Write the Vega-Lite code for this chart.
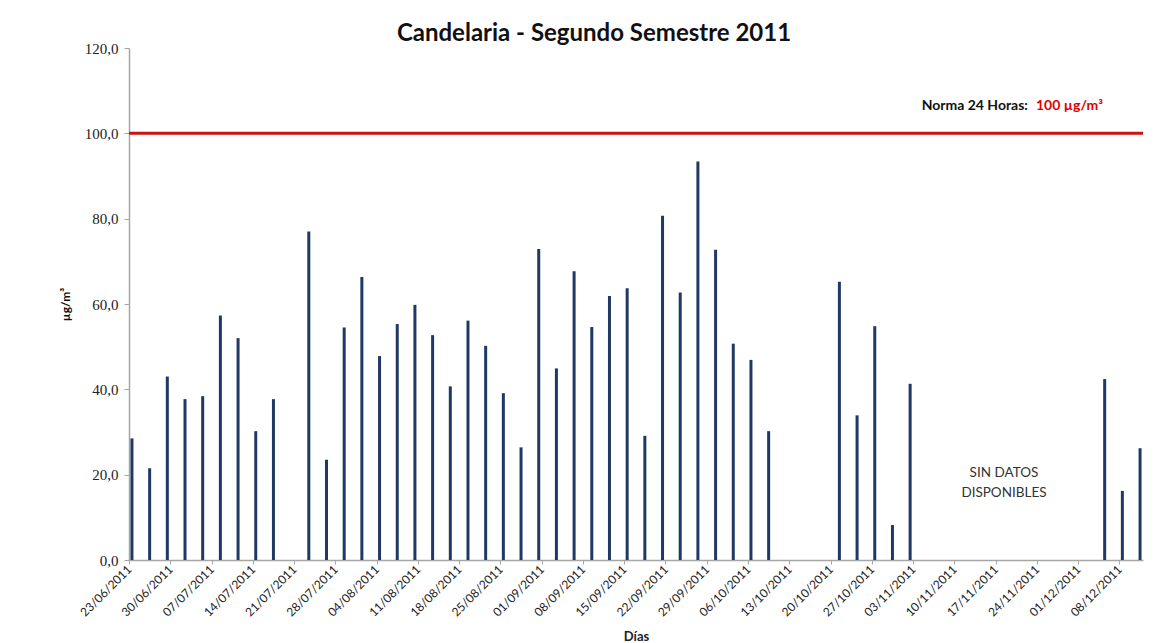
{
  "$schema": "https://vega.github.io/schema/vega-lite/v6.json",
  "width": 1014,
  "height": 512,
  "autosize": "none",
  "padding": {"left": 129, "top": 48, "right": 23, "bottom": 83},
  "background": "white",
  "title": {
    "text": "Candelaria - Segundo Semestre 2011",
    "font": "Lato",
    "fontSize": 24,
    "fontWeight": "bold",
    "color": "#111111",
    "anchor": "middle",
    "dx": -42,
    "offset": -5
  },
  "config": {
    "view": {"stroke": null},
    "axis": {"grid": false, "domainColor": "#a6a6a6", "tickColor": "#a6a6a6", "domainWidth": 1.5}
  },
  "data": {
    "values": [
      {"fecha": "2011-06-23", "valor": 28.5},
      {"fecha": "2011-06-26", "valor": 21.5},
      {"fecha": "2011-06-29", "valor": 43.0},
      {"fecha": "2011-07-02", "valor": 37.7},
      {"fecha": "2011-07-05", "valor": 38.4},
      {"fecha": "2011-07-08", "valor": 57.3},
      {"fecha": "2011-07-11", "valor": 52.0},
      {"fecha": "2011-07-14", "valor": 30.2},
      {"fecha": "2011-07-17", "valor": 37.7},
      {"fecha": "2011-07-23", "valor": 77.0},
      {"fecha": "2011-07-26", "valor": 23.5},
      {"fecha": "2011-07-29", "valor": 54.5},
      {"fecha": "2011-08-01", "valor": 66.3},
      {"fecha": "2011-08-04", "valor": 47.8},
      {"fecha": "2011-08-07", "valor": 55.3},
      {"fecha": "2011-08-10", "valor": 59.8},
      {"fecha": "2011-08-13", "valor": 52.7},
      {"fecha": "2011-08-16", "valor": 40.7},
      {"fecha": "2011-08-19", "valor": 56.1},
      {"fecha": "2011-08-22", "valor": 50.2},
      {"fecha": "2011-08-25", "valor": 39.1},
      {"fecha": "2011-08-28", "valor": 26.4},
      {"fecha": "2011-08-31", "valor": 72.9},
      {"fecha": "2011-09-03", "valor": 44.9},
      {"fecha": "2011-09-06", "valor": 67.7},
      {"fecha": "2011-09-09", "valor": 54.6},
      {"fecha": "2011-09-12", "valor": 61.9},
      {"fecha": "2011-09-15", "valor": 63.7},
      {"fecha": "2011-09-18", "valor": 29.1},
      {"fecha": "2011-09-21", "valor": 80.7},
      {"fecha": "2011-09-24", "valor": 62.7},
      {"fecha": "2011-09-27", "valor": 93.4},
      {"fecha": "2011-09-30", "valor": 72.7},
      {"fecha": "2011-10-03", "valor": 50.7},
      {"fecha": "2011-10-06", "valor": 46.9},
      {"fecha": "2011-10-09", "valor": 30.2},
      {"fecha": "2011-10-21", "valor": 65.2},
      {"fecha": "2011-10-24", "valor": 33.9},
      {"fecha": "2011-10-27", "valor": 54.8},
      {"fecha": "2011-10-30", "valor": 8.2},
      {"fecha": "2011-11-02", "valor": 41.3},
      {"fecha": "2011-12-05", "valor": 42.4},
      {"fecha": "2011-12-08", "valor": 16.2},
      {"fecha": "2011-12-11", "valor": 26.2}
    ]
  },
  "layer": [
    {
      "mark": {"type": "rule", "color": "#1f3864", "strokeWidth": 3},
      "encoding": {
        "x": {
          "field": "fecha",
          "type": "temporal",
          "timeUnit": "utcyearmonthdate",
          "bandPosition": 0.5,
          "title": "Días",
          "scale": {
            "type": "utc",
            "domain": [
              {"year": 2011, "month": 6, "date": 23, "utc": true},
              {"year": 2011, "month": 12, "date": 12, "utc": true}
            ]
          },
          "axis": {
            "values": [
              {"year": 2011, "month": 6, "date": 23, "utc": true},
              {"year": 2011, "month": 6, "date": 30, "utc": true},
              {"year": 2011, "month": 7, "date": 7, "utc": true},
              {"year": 2011, "month": 7, "date": 14, "utc": true},
              {"year": 2011, "month": 7, "date": 21, "utc": true},
              {"year": 2011, "month": 7, "date": 28, "utc": true},
              {"year": 2011, "month": 8, "date": 4, "utc": true},
              {"year": 2011, "month": 8, "date": 11, "utc": true},
              {"year": 2011, "month": 8, "date": 18, "utc": true},
              {"year": 2011, "month": 8, "date": 25, "utc": true},
              {"year": 2011, "month": 9, "date": 1, "utc": true},
              {"year": 2011, "month": 9, "date": 8, "utc": true},
              {"year": 2011, "month": 9, "date": 15, "utc": true},
              {"year": 2011, "month": 9, "date": 22, "utc": true},
              {"year": 2011, "month": 9, "date": 29, "utc": true},
              {"year": 2011, "month": 10, "date": 6, "utc": true},
              {"year": 2011, "month": 10, "date": 13, "utc": true},
              {"year": 2011, "month": 10, "date": 20, "utc": true},
              {"year": 2011, "month": 10, "date": 27, "utc": true},
              {"year": 2011, "month": 11, "date": 3, "utc": true},
              {"year": 2011, "month": 11, "date": 10, "utc": true},
              {"year": 2011, "month": 11, "date": 17, "utc": true},
              {"year": 2011, "month": 11, "date": 24, "utc": true},
              {"year": 2011, "month": 12, "date": 1, "utc": true},
              {"year": 2011, "month": 12, "date": 8, "utc": true}
            ],
            "labelExpr": "utcFormat(datum.value, '%d/%m/%Y')",
            "labelAngle": -45,
            "labelAlign": "right",
            "labelBaseline": "middle",
            "labelFont": "Lato",
            "labelFontSize": 12,
            "labelColor": "#222222",
            "labelPadding": 3,
            "labelOverlap": false,
            "labelFlush": false,
            "tickSize": 4,
            "titleFont": "Lato",
            "titleFontSize": 13,
            "titleFontWeight": "bold",
            "titleColor": "#222222",
            "titlePadding": 12
          }
        },
        "y": {
          "field": "valor",
          "type": "quantitative",
          "title": "µg/m³",
          "scale": {"domain": [0, 120], "nice": false},
          "axis": {
            "values": [0, 20, 40, 60, 80, 100, 120],
            "labelExpr": "replace(format(datum.value, '.1f'), '.', ',')",
            "labelFont": "Liberation Serif",
            "labelFontSize": 15,
            "labelColor": "#222222",
            "labelPadding": 6,
            "tickSize": 5,
            "titleFont": "Lato",
            "titleFontSize": 12,
            "titleFontWeight": "bold",
            "titleColor": "#111111",
            "titlePadding": 12
          }
        },
        "y2": {"datum": 0}
      }
    },
    {
      "data": {"values": [{}]},
      "mark": {"type": "rule", "color": "#cc1111", "strokeWidth": 3},
      "encoding": {"y": {"datum": 100}}
    },
    {
      "data": {"values": [{}]},
      "mark": {"type": "text", "align": "right", "baseline": "middle", "font": "Lato", "fontSize": 14, "fontWeight": "bold", "color": "#111111", "dx": -3},
      "encoding": {
        "x": {"datum": {"year": 2011, "month": 11, "date": 23, "utc": true}, "type": "temporal"},
        "y": {"datum": 106.5},
        "text": {"value": "Norma 24 Horas:"}
      }
    },
    {
      "data": {"values": [{}]},
      "mark": {"type": "text", "align": "left", "baseline": "middle", "font": "Lato", "fontSize": 14, "fontWeight": "bold", "color": "#e00000", "dx": 5},
      "encoding": {
        "x": {"datum": {"year": 2011, "month": 11, "date": 23, "utc": true}, "type": "temporal"},
        "y": {"datum": 106.5},
        "text": {"value": "100 µg/m³"}
      }
    },
    {
      "data": {"values": [{}]},
      "mark": {"type": "text", "align": "center", "baseline": "middle", "font": "Lato", "fontSize": 13.5, "color": "#333333", "lineHeight": 20},
      "encoding": {
        "x": {"datum": {"year": 2011, "month": 11, "date": 18, "hours": 10, "utc": true}, "type": "temporal"},
        "y": {"datum": 20.3},
        "text": {"value": ["SIN DATOS", "DISPONIBLES"]}
      }
    }
  ]
}
